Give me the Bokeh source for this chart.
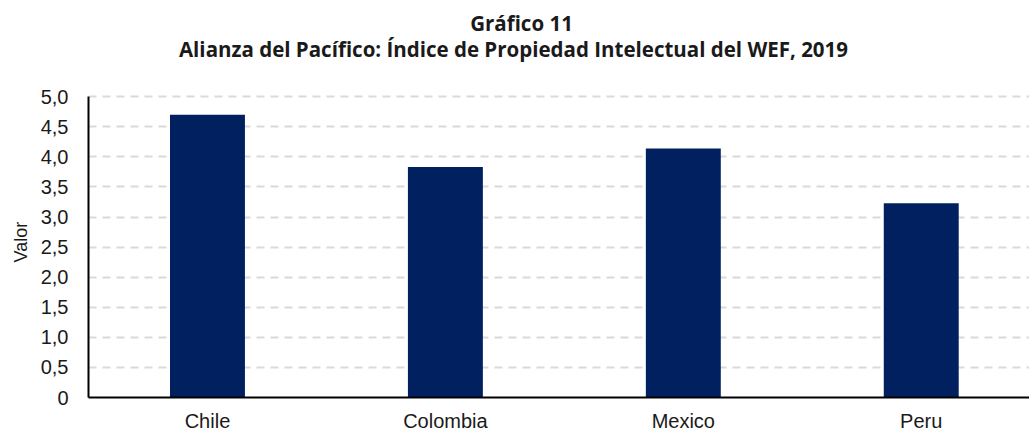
from bokeh.plotting import figure
from bokeh.models import Range1d, FixedTicker, Label, Title
from bokeh.embed import file_html
from bokeh.resources import INLINE

# Data
countries = ["Chile", "Colombia", "Mexico", "Peru"]
values = [4.70, 3.83, 4.14, 3.23]
y_ticks = [0, 0.5, 1.0, 1.5, 2.0, 2.5, 3.0, 3.5, 4.0, 4.5, 5.0]
y_tick_labels = ["0", "0,5", "1,0", "1,5", "2,0", "2,5", "3,0", "3,5", "4,0", "4,5", "5,0"]
title_line1 = "Gráfico 11"
title_line2 = "Alianza del Pacífico: Índice de Propiedad Intelectual del WEF, 2019"
y_label = "Valor"

x_pos = [i + 0.5 for i in range(len(countries))]

# frame reaches the top of the canvas so that the two title lines can live inside it;
# the y axis itself is bounded to 0..5
p = figure(width=1029, height=434, output_backend="svg", toolbar_location=None,
           x_range=Range1d(0, 3.955), y_range=Range1d(0, 6.6),
           min_border_left=88, min_border_right=0, min_border_bottom=34,
           min_border_top=0)
p.title = None

title_style = dict(text_font="Open Sans", text_font_style="bold",
                   text_font_size="20.5px", text_color="#1a1a1a",
                   text_align="center", text_baseline="middle",
                   x_units="screen", y_units="screen")
# screen units are measured from the frame's bottom-left corner
p.add_layout(Label(x=433, y=375, text=title_line1, **title_style))
p.add_layout(Label(x=425, y=349, text=title_line2, **title_style))

p.vbar(x=x_pos, top=values, width=0.315, color="#002060", line_color=None)

p.outline_line_color = None
p.background_fill_color = "white"
p.border_fill_color = "white"

p.xgrid.grid_line_color = None
p.ygrid.grid_line_color = "#d9d9d9"
p.ygrid.grid_line_width = 2
p.ygrid.grid_line_dash = "8 6"
p.ygrid.ticker = FixedTicker(ticks=y_ticks[1:])

p.xaxis.ticker = FixedTicker(ticks=x_pos)
p.xaxis.major_label_overrides = {x: c for x, c in zip(x_pos, countries)}
p.xaxis.axis_line_color = "black"
p.xaxis.axis_line_width = 2
p.xaxis.major_tick_line_color = None
p.xaxis.minor_tick_line_color = None
p.xaxis.major_label_text_font = "Liberation Sans"
p.xaxis.major_label_text_font_size = "20px"
p.xaxis.major_label_text_color = "#1a1a1a"
p.xaxis.major_label_standoff = 6

p.yaxis.ticker = FixedTicker(ticks=y_ticks)
p.yaxis.bounds = (y_ticks[0], y_ticks[-1])
p.yaxis.major_label_overrides = {t: l for t, l in zip(y_ticks, y_tick_labels)}
p.yaxis.axis_line_color = "black"
p.yaxis.axis_line_width = 2
p.yaxis.major_tick_line_color = None
p.yaxis.minor_tick_line_color = None
p.yaxis.major_label_text_font = "Liberation Sans"
p.yaxis.major_label_text_font_size = "20px"
p.yaxis.major_label_text_color = "#1a1a1a"
p.yaxis.major_label_standoff = 14

# y-axis title, placed along the 0..5 part of the axis
p.add_layout(Title(text=y_label, align="left", offset=135, standoff=14,
                   text_font="Liberation Sans", text_font_style="normal",
                   text_font_size="18px", text_color="#1a1a1a"), "left")

open("out.html", "w").write(file_html(p, INLINE))
